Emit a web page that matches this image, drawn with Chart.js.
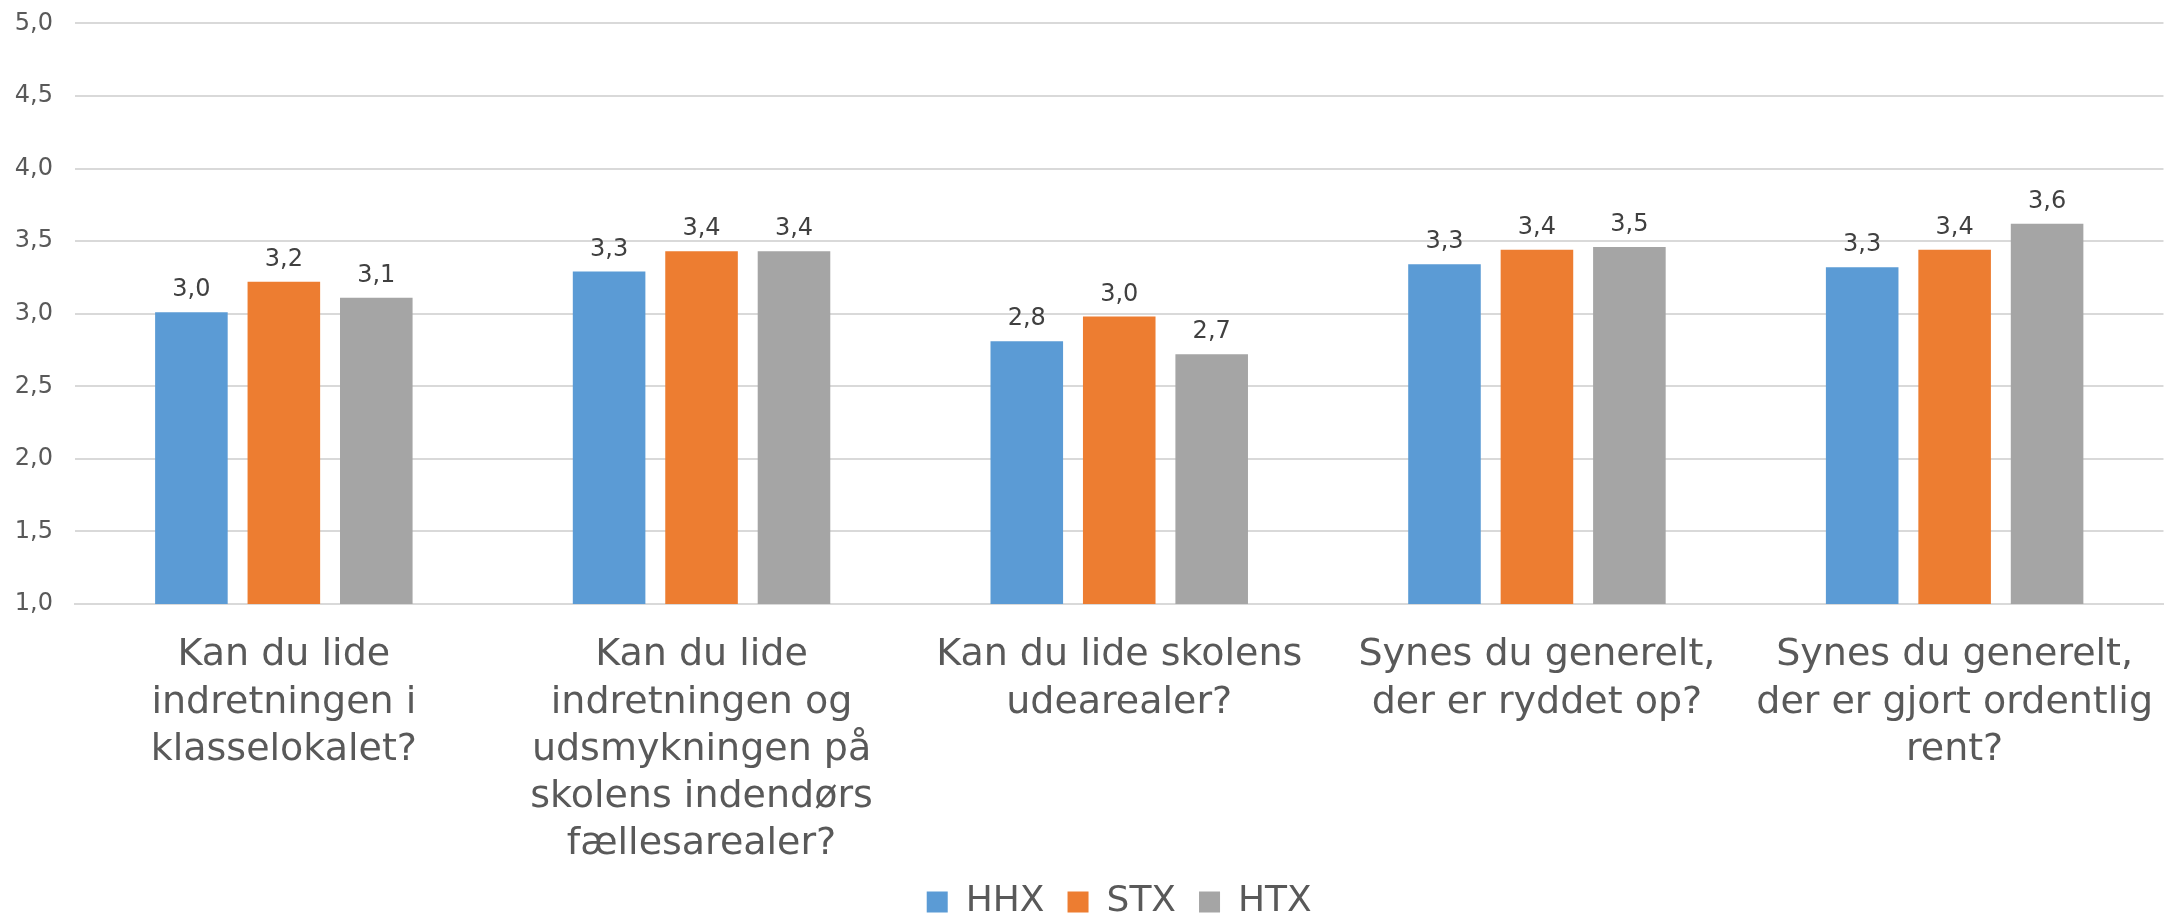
<!DOCTYPE html>
<html>
<head>
<meta charset="utf-8">
<script src="https://cdn.jsdelivr.net/npm/chart.js@4/dist/chart.umd.min.js"></script>
<style>
  html, body { margin: 0; padding: 0; background: #fff; overflow: hidden; }
  canvas { display: block; }
</style>
</head>
<body>
<canvas id="chart" width="2173" height="919"></canvas>
<script>
// categories (questions), one line per array entry
const categories = [
    ['Kan du lide', 'indretningen i', 'klasselokalet?'],
    ['Kan du lide', 'indretningen og', 'udsmykningen på', 'skolens indendørs', 'fællesarealer?'],
    ['Kan du lide skolens', 'udearealer?'],
    ['Synes du generelt,', 'der er ryddet op?'],
    ['Synes du generelt,', 'der er gjort ordentlig', 'rent?']
];

const seriesNames = ['HHX', 'STX', 'HTX'];
const seriesColors = ['#5B9BD5', '#ED7D31', '#A5A5A5'];

const hhxValues = [3.01, 3.29, 2.81, 3.34, 3.32];
const stxValues = [3.22, 3.43, 2.98, 3.44, 3.44];
const htxValues = [3.11, 3.43, 2.72, 3.46, 3.62];

const yTicks = [1.0, 1.5, 2.0, 2.5, 3.0, 3.5, 4.0, 4.5, 5.0];

const FONT = '"DejaVu Sans", Verdana, sans-serif';

function fmt(v) {
    return v.toFixed(1).replace('.', ',');
}

// value labels above each bar
const barValueLabels = {
    id: 'barValueLabels',
    afterDatasetsDraw(chart) {
        const ctx = chart.ctx;
        ctx.save();
        ctx.font = '24px ' + FONT;
        ctx.fillStyle = '#404040';
        ctx.textAlign = 'center';
        ctx.textBaseline = 'alphabetic';
        chart.data.datasets.forEach((ds, i) => {
            const meta = chart.getDatasetMeta(i);
            meta.data.forEach((bar, j) => {
                ctx.fillText(fmt(ds.data[j]), bar.x, bar.y - 16);
            });
        });
        ctx.restore();
    }
};

const seriesValues = [hhxValues, stxValues, htxValues];

new Chart(document.getElementById('chart'), {
    type: 'bar',
    data: {
        labels: categories,
        datasets: seriesNames.map((name, i) => ({
            label: name,
            data: seriesValues[i],
            backgroundColor: seriesColors[i],
            borderWidth: 0,
            categoryPercentage: 0.664,
            barPercentage: 0.785
        }))
    },
    options: {
        responsive: false,
        animation: false,
        layout: {
            padding: { top: 12, right: 0, bottom: -11, left: 0 }
        },
        scales: {
            x: {
                grid: { display: false },
                border: { display: true, color: '#D9D9D9', width: 2 },
                ticks: {
                    color: '#595959',
                    font: { family: FONT, size: 38, lineHeight: 1.24 },
                    padding: 20,
                    maxRotation: 0,
                    autoSkip: false
                },
                afterFit(scale) {
                    scale.height = 257;
                }
            },
            y: {
                min: 1,
                max: 5,
                afterBuildTicks(scale) {
                    scale.ticks = yTicks.map(v => ({ value: v }));
                },
                grid: {
                    color: '#D9D9D9',
                    lineWidth: 2,
                    drawTicks: true,
                    tickLength: 13,
                    tickColor: 'rgba(0,0,0,0)'
                },
                border: { display: false },
                ticks: {
                    color: '#595959',
                    font: { family: FONT, size: 24 },
                    padding: 9,
                    callback: v => fmt(v)
                },
                afterFit(scale) {
                    scale.width = 75;
                }
            }
        },
        plugins: {
            legend: {
                position: 'bottom',
                fullSize: false,
                labels: {
                    color: '#595959',
                    font: { family: FONT, size: 36 },
                    boxWidth: 21,
                    boxHeight: 21,
                    padding: 23
                }
            },
            tooltip: { enabled: false }
        }
    },
    plugins: [barValueLabels]
});
</script>
</body>
</html>
